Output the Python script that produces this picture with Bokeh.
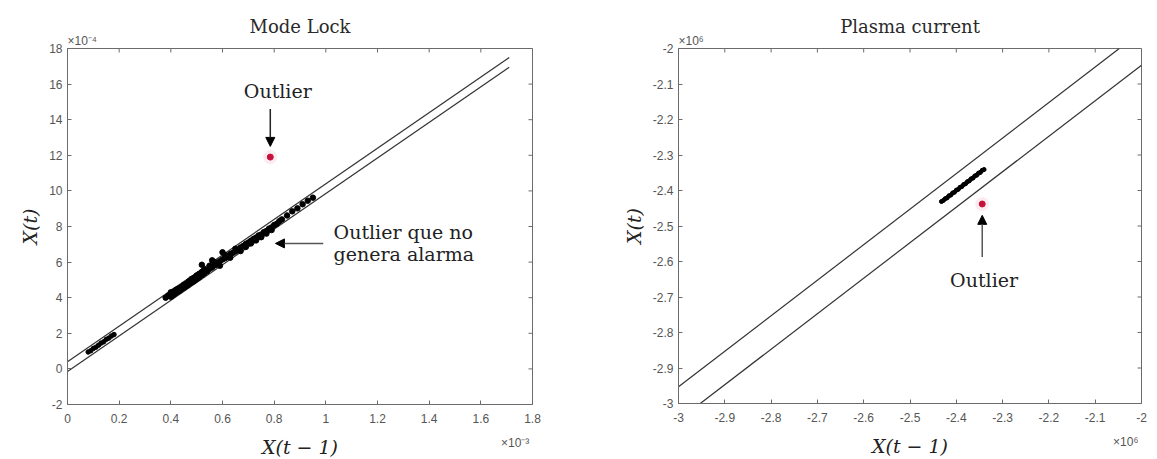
from bokeh.plotting import figure
from bokeh.layouts import row
from bokeh.models import (Range1d, LinearAxis, FixedTicker, CustomJSTickFormatter,
                          Label, Arrow, NormalHead, Title)
from bokeh.embed import file_html
from bokeh.resources import INLINE

# ---------------- Mode Lock (x in 1e-3, y in 1e-4) ----------------
ml_x_ticks = [0, 0.2, 0.4, 0.6, 0.8, 1.0, 1.2, 1.4, 1.6, 1.8]
ml_y_ticks = [-2, 0, 2, 4, 6, 8, 10, 12, 14, 16, 18]

ml_band_x = [0.0, 1.71]
ml_band_upper = [0.4, 17.5]
ml_band_lower = [-0.15, 16.95]

ml_low_x = [0.08, 0.09, 0.10, 0.11, 0.12, 0.13, 0.14, 0.15, 0.16, 0.17, 0.18]
ml_low_y = [0.95, 1.02, 1.15, 1.22, 1.33, 1.45, 1.52, 1.66, 1.73, 1.85, 1.93]

ml_x = [0.38, 0.39, 0.40, 0.40, 0.41, 0.41, 0.42, 0.42, 0.43, 0.43, 0.44, 0.44,
        0.45, 0.45, 0.46, 0.46, 0.47, 0.47, 0.48, 0.48, 0.49, 0.49, 0.50, 0.50,
        0.51, 0.51, 0.52, 0.52, 0.53, 0.53, 0.54, 0.55, 0.55, 0.56, 0.57, 0.57,
        0.58, 0.59, 0.59, 0.60, 0.61, 0.61, 0.62, 0.63, 0.63, 0.64, 0.65, 0.65,
        0.66, 0.67, 0.67, 0.68, 0.69, 0.69, 0.70, 0.71, 0.71, 0.72, 0.73, 0.73,
        0.74, 0.75, 0.75, 0.76, 0.77, 0.77, 0.78, 0.79, 0.79, 0.80, 0.81, 0.82,
        0.83, 0.85, 0.87, 0.89, 0.91, 0.93, 0.95, 0.52, 0.56, 0.60, 0.405,
        0.415, 0.425, 0.435, 0.445, 0.455, 0.465, 0.475, 0.485, 0.495, 0.505]
ml_y = [4.00, 4.12, 4.05, 4.30, 4.18, 4.35, 4.28, 4.45, 4.36, 4.52, 4.48, 4.60,
        4.55, 4.72, 4.66, 4.80, 4.75, 4.92, 4.86, 5.05, 4.95, 5.12, 5.06, 5.25,
        5.15, 5.34, 5.26, 5.45, 5.38, 5.60, 5.48, 5.62, 5.80, 5.70, 5.82, 6.00,
        5.92, 6.05, 5.80, 6.15, 6.22, 6.40, 6.30, 6.45, 6.25, 6.52, 6.60, 6.75,
        6.70, 6.82, 6.62, 6.90, 7.02, 6.85, 7.10, 7.20, 7.05, 7.30, 7.38, 7.22,
        7.50, 7.55, 7.40, 7.68, 7.75, 7.60, 7.88, 7.95, 7.80, 8.08, 8.15, 8.30,
        8.40, 8.62, 8.85, 9.02, 9.25, 9.45, 9.62, 5.85, 6.10, 6.55, 4.10,
        4.22, 4.32, 4.40, 4.52, 4.62, 4.70, 4.82, 4.90, 5.00, 5.10]

ml_outlier_x = [0.785]
ml_outlier_y = [11.9]

# ---------------- Plasma current (x, y in 1e6) ----------------
pc_x_ticks = [-3, -2.9, -2.8, -2.7, -2.6, -2.5, -2.4, -2.3, -2.2, -2.1, -2]
pc_y_ticks = [-3, -2.9, -2.8, -2.7, -2.6, -2.5, -2.4, -2.3, -2.2, -2.1, -2]

pc_upper_x = [-3.0, -2.048]
pc_upper_y = [-2.953, -2.0]
pc_lower_x = [-2.953, -2.0]
pc_lower_y = [-3.0, -2.047]

pc_x = [-2.432, -2.428, -2.424, -2.420, -2.416, -2.412, -2.408, -2.404,
        -2.400, -2.396, -2.392, -2.388, -2.384, -2.380, -2.376, -2.372,
        -2.368, -2.364, -2.360, -2.356, -2.352, -2.348, -2.344, -2.340]
pc_y = [-2.431, -2.428, -2.423, -2.421, -2.415, -2.413, -2.407, -2.405,
        -2.399, -2.397, -2.391, -2.389, -2.383, -2.381, -2.375, -2.373,
        -2.367, -2.365, -2.359, -2.357, -2.351, -2.349, -2.343, -2.341]

pc_outlier_x = [-2.344]
pc_outlier_y = [-2.438]

SERIF = "DejaVu Serif"
SANS = "Liberation Sans"
AXIS_COL = "#6b6b6b"
TICK_COL = "#555555"
TEXT_COL = "#222222"
TICK_PX = 4

fmt = CustomJSTickFormatter(code="return String(Math.round(tick * 10) / 10);")


def make_panel(title, xr, yr, xt, yt, fw, fh, left, right, top, bottom,
               x_exp, x_exp_at, y_exp):
    p = figure(x_range=Range1d(*xr), y_range=Range1d(*yr),
               frame_width=fw, frame_height=fh,
               min_border_left=left, min_border_right=right,
               min_border_top=top, min_border_bottom=bottom,
               output_backend="svg", toolbar_location=None,
               background_fill_color="white", border_fill_color="white")
    p.grid.visible = False
    p.outline_line_color = AXIS_COL
    p.outline_line_width = 1

    # y exponent just above the top-left corner, title above that
    p.add_layout(Title(text=y_exp, align="left", text_font=SANS,
                       text_font_size="12px", text_font_style="normal",
                       text_color=TICK_COL, standoff=1), "above")
    p.title.text = title
    p.title.align = "center"
    p.title.text_font = SERIF
    p.title.text_font_style = "normal"
    p.title.text_font_size = "18px"
    p.title.text_color = "#2a2a2a"
    p.title.standoff = -10

    xa = p.xaxis[0]
    ya = p.yaxis[0]
    xa.ticker = FixedTicker(ticks=xt, minor_ticks=[])
    ya.ticker = FixedTicker(ticks=yt, minor_ticks=[])
    for ax in (xa, ya):
        ax.formatter = fmt
        ax.axis_line_color = AXIS_COL
        ax.major_tick_line_color = AXIS_COL
        ax.major_tick_in = TICK_PX
        ax.major_tick_out = 0
        ax.minor_tick_line_color = None
        ax.major_label_text_font = SANS
        ax.major_label_text_font_size = "12px"
        ax.major_label_text_color = TICK_COL
        ax.axis_label_text_font = SERIF
        ax.axis_label_text_font_style = "italic"
        ax.axis_label_text_font_size = "19px"
        ax.axis_label_text_color = TEXT_COL
    xa.major_label_standoff = 9
    ya.major_label_standoff = 5
    ya.axis_label = "X(t)"
    ya.axis_label_standoff = 5

    # second bottom axis: carries the x exponent and the x label on one line
    xb = LinearAxis(ticker=FixedTicker(ticks=[x_exp_at], minor_ticks=[]),
                    formatter=CustomJSTickFormatter(code="return '%s';" % x_exp),
                    axis_line_color=None, major_tick_line_color=None,
                    minor_tick_line_color=None, major_tick_in=0, major_tick_out=0,
                    major_label_standoff=10, major_label_text_font=SANS,
                    major_label_text_font_size="12px",
                    major_label_text_color=TICK_COL,
                    axis_label="X(t − 1)", axis_label_standoff=-17,
                    axis_label_text_font=SERIF, axis_label_text_font_style="italic",
                    axis_label_text_font_size="19px", axis_label_text_color=TEXT_COL)
    p.add_layout(xb, "below")

    # inward ticks on the top and right edges of the box
    dy = TICK_PX * (yr[1] - yr[0]) / fh
    dx = TICK_PX * (xr[1] - xr[0]) / fw
    p.segment(x0=xt, y0=[yr[1]] * len(xt), x1=xt, y1=[yr[1] - dy] * len(xt),
              line_color=AXIS_COL, line_width=1)
    p.segment(x0=[xr[1]] * len(yt), y0=yt, x1=[xr[1] - dx] * len(yt), y1=yt,
              line_color=AXIS_COL, line_width=1)
    return p


def head():
    return NormalHead(size=9, fill_color="black", line_color="black")


def note(p, x, y, text, align):
    p.add_layout(Label(x=x, y=y, text=text, text_align=align,
                       text_baseline="middle", text_font=SERIF,
                       text_font_size="19px", text_color=TEXT_COL))


# ---------------- left panel ----------------
p1 = make_panel("Mode Lock", (0, 1.8), (-2, 18), ml_x_ticks, ml_y_ticks,
                465, 356, 67, 80, 47, 56, "×10⁻³", 1.733, "×10⁻⁴")
p1.line(ml_band_x, ml_band_upper, line_color="#333333", line_width=1.2)
p1.line(ml_band_x, ml_band_lower, line_color="#333333", line_width=1.2)
p1.scatter(ml_low_x, ml_low_y, size=4.5, marker="circle", color="black")
p1.scatter(ml_x, ml_y, size=5.5, marker="circle", color="black")
p1.scatter(ml_outlier_x, ml_outlier_y, size=14, color="#f4c8d2", alpha=0.35,
           line_color=None)
p1.scatter(ml_outlier_x, ml_outlier_y, size=6, color="#c8103c")
p1.add_layout(Arrow(end=head(), x_start=0.785, y_start=14.6, x_end=0.785,
                    y_end=12.5, line_color="#222222", line_width=1.5))
p1.add_layout(Arrow(end=head(), x_start=0.99, y_start=7.05, x_end=0.805,
                    y_end=7.05, line_color="#555555", line_width=1.5))
note(p1, 0.814, 15.62, "Outlier", "center")
note(p1, 1.03, 7.7, "Outlier que no", "left")
note(p1, 1.03, 6.45, "genera alarma", "left")

# ---------------- right panel ----------------
p2 = make_panel("Plasma current", (-3, -2), (-3, -2), pc_x_ticks, pc_y_ticks,
                463, 355, 66, 16, 48, 56, "×10⁶", -2.034, "×10⁶")
p2.line(pc_upper_x, pc_upper_y, line_color="#333333", line_width=1.2)
p2.line(pc_lower_x, pc_lower_y, line_color="#333333", line_width=1.2)
p2.line(pc_x, pc_y, line_color="black", line_width=4, line_cap="round")
p2.scatter(pc_x, pc_y, size=4, marker="circle", color="black")
p2.scatter(pc_outlier_x, pc_outlier_y, size=14, color="#f4c8d2", alpha=0.35,
           line_color=None)
p2.scatter(pc_outlier_x, pc_outlier_y, size=6, color="#c8103c")
p2.add_layout(Arrow(end=head(), x_start=-2.344, y_start=-2.587, x_end=-2.344,
                    y_end=-2.47, line_color="#555555", line_width=1.5))
note(p2, -2.34, -2.652, "Outlier", "center")

layout = row(p1, p2)
open("out.html", "w").write(file_html(layout, INLINE))
